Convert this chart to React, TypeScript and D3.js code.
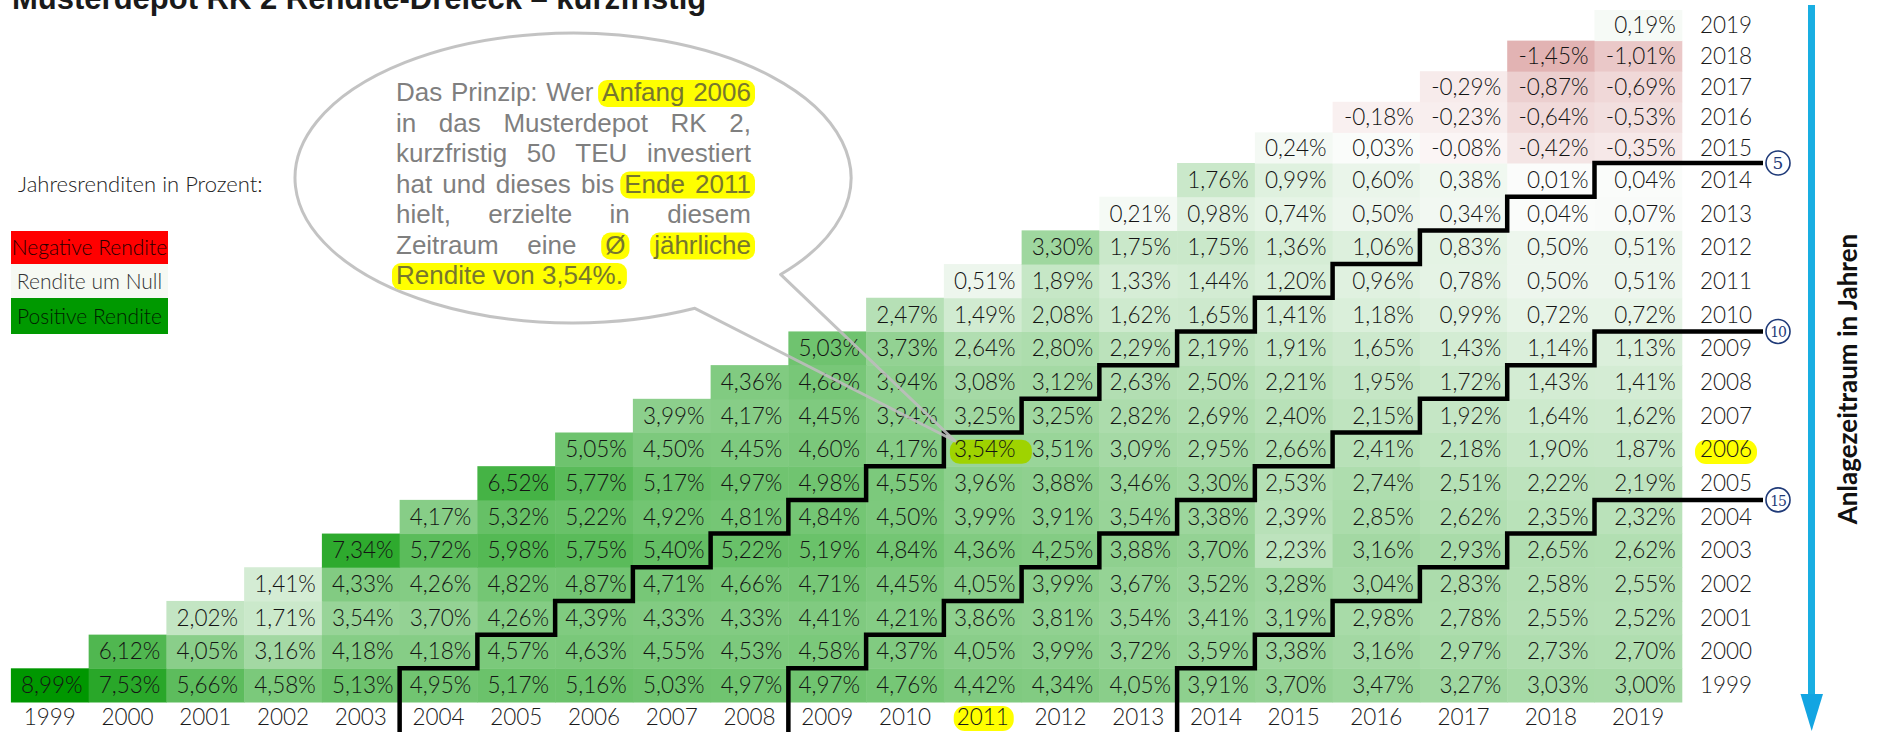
import React, { useEffect, useRef } from 'react'
import * as d3 from 'd3'

// Rendite-Dreieck: rows = Anlagebeginn (start year), columns = Anlageende (end year)
const years = d3.range(1999, 2020)

const r1999 = [8.99, 7.53, 5.66, 4.58, 5.13, 4.95, 5.17, 5.16, 5.03, 4.97, 4.97, 4.76, 4.42, 4.34, 4.05, 3.91, 3.70, 3.47, 3.27, 3.03, 3.00]
const r2000 = [6.12, 4.05, 3.16, 4.18, 4.18, 4.57, 4.63, 4.55, 4.53, 4.58, 4.37, 4.05, 3.99, 3.72, 3.59, 3.38, 3.16, 2.97, 2.73, 2.70]
const r2001 = [2.02, 1.71, 3.54, 3.70, 4.26, 4.39, 4.33, 4.33, 4.41, 4.21, 3.86, 3.81, 3.54, 3.41, 3.19, 2.98, 2.78, 2.55, 2.52]
const r2002 = [1.41, 4.33, 4.26, 4.82, 4.87, 4.71, 4.66, 4.71, 4.45, 4.05, 3.99, 3.67, 3.52, 3.28, 3.04, 2.83, 2.58, 2.55]
const r2003 = [7.34, 5.72, 5.98, 5.75, 5.40, 5.22, 5.19, 4.84, 4.36, 4.25, 3.88, 3.70, 2.23, 3.16, 2.93, 2.65, 2.62]
const r2004 = [4.17, 5.32, 5.22, 4.92, 4.81, 4.84, 4.50, 3.99, 3.91, 3.54, 3.38, 2.39, 2.85, 2.62, 2.35, 2.32]
const r2005 = [6.52, 5.77, 5.17, 4.97, 4.98, 4.55, 3.96, 3.88, 3.46, 3.30, 2.53, 2.74, 2.51, 2.22, 2.19]
const r2006 = [5.05, 4.50, 4.45, 4.60, 4.17, 3.54, 3.51, 3.09, 2.95, 2.66, 2.41, 2.18, 1.90, 1.87]
const r2007 = [3.99, 4.17, 4.45, 3.94, 3.25, 3.25, 2.82, 2.69, 2.40, 2.15, 1.92, 1.64, 1.62]
const r2008 = [4.36, 4.68, 3.94, 3.08, 3.12, 2.63, 2.50, 2.21, 1.95, 1.72, 1.43, 1.41]
const r2009 = [5.03, 3.73, 2.64, 2.80, 2.29, 2.19, 1.91, 1.65, 1.43, 1.14, 1.13]
const r2010 = [2.47, 1.49, 2.08, 1.62, 1.65, 1.41, 1.18, 0.99, 0.72, 0.72]
const r2011 = [0.51, 1.89, 1.33, 1.44, 1.20, 0.96, 0.78, 0.50, 0.51]
const r2012 = [3.30, 1.75, 1.75, 1.36, 1.06, 0.83, 0.50, 0.51]
const r2013 = [0.21, 0.98, 0.74, 0.50, 0.34, 0.04, 0.07]
const r2014 = [1.76, 0.99, 0.60, 0.38, 0.01, 0.04]
const r2015 = [0.24, 0.03, -0.08, -0.42, -0.35]
const r2016 = [-0.18, -0.23, -0.64, -0.53]
const r2017 = [-0.29, -0.87, -0.69]
const r2018 = [-1.45, -1.01]
const r2019 = [0.19]

const rowsByStart = [r1999, r2000, r2001, r2002, r2003, r2004, r2005, r2006, r2007, r2008,
  r2009, r2010, r2011, r2012, r2013, r2014, r2015, r2016, r2017, r2018, r2019]

const holdPeriods = [5, 10, 15]
const highlightStart = 2006
const highlightEnd = 2011

const legendItems = [
  { label: 'Negative Rendite', fill: '#FF0000', color: '#2a0000' },
  { label: 'Rendite um Null', fill: '#F6F9F3', color: '#333333' },
  { label: 'Positive Rendite', fill: '#009900', color: '#001f00' }
]

const bubbleLines: [string, boolean][][] = [
  [['Das Prinzip: Wer', false], ['Anfang 2006', true]],
  [['in das Musterdepot RK 2,', false]],
  [['kurzfristig 50 TEU investiert', false]],
  [['hat und dieses bis', false], ['Ende 2011', true]],
  [['hielt, erzielte in diesem', false]],
  [['Zeitraum eine', false], ['Ø', true], ['jährliche', true]],
  [['Rendite von 3,54%.', true]]
]

const fmt = (v: number) => v.toFixed(2).replace('.', ',') + '%'

function App () {
  const ref = useRef<SVGSVGElement>(null)

  useEffect(() => {
    function drawChart () {
      const svg = d3.select(ref.current)
      svg.selectAll('*').remove()

      // column left edges (last four columns are wider) and row edges
      const x = d3.scaleLinear().domain([1999, 2016, 2020]).range([10.9, 1332.6, 1681.8])
      const y = d3.scaleLinear().domain([2020, 2015, 1999]).range([10, 163, 702])
      const negColor = d3.scaleLinear<string>().domain([-1.45, 0]).range(['#E2B3B3', '#FCF9F9'])
      const posColor = d3.scaleLinear<string>().domain([0, 8.99]).range(['#FBFCFB', '#009700'])

      const cells = years.flatMap((s, i) => rowsByStart[i].map((v, j) => ({ start: s, end: s + j, v })))

      // title (cut at the top, as in the original)
      svg.append('text')
        .attr('x', 12).attr('y', 9)
        .attr('font-family', 'Liberation Sans, Arial, sans-serif')
        .attr('font-weight', 700).attr('font-size', 31).attr('fill', '#1a1a1a')
        .text('Musterdepot RK 2 Rendite-Dreieck – kurzfristig')

      // cells
      const g = svg.append('g')
      g.selectAll('rect.cell')
        .data(cells)
        .enter()
        .append('rect')
        .attr('class', 'cell')
        .attr('x', d => x(d.end))
        .attr('y', d => y(d.start + 1))
        .attr('width', d => x(d.end + 1) - x(d.end) + 0.5)
        .attr('height', d => y(d.start) - y(d.start + 1) + 0.5)
        .attr('fill', d => d.v < 0 ? negColor(d.v) : posColor(d.v))

      // 3,54% highlight
      const hy = (y(highlightStart) + y(highlightStart + 1)) / 2
      g.append('rect')
        .attr('x', x(highlightEnd) + 6).attr('y', hy - 9.5)
        .attr('width', 82).attr('height', 24).attr('rx', 10)
        .attr('fill', '#9FD300')

      g.selectAll('text.val')
        .data(cells)
        .enter()
        .append('text')
        .attr('class', 'val')
        .attr('x', d => x(d.end + 1) - 6)
        .attr('y', d => (y(d.start) + y(d.start + 1)) / 2 + 8)
        .attr('text-anchor', 'end')
        .attr('font-family', 'Lato, sans-serif').attr('font-weight', 300)
        .attr('font-size', 22.5).attr('fill', '#141414')
        .text(d => fmt(d.v))

      // column labels (end year)
      svg.append('rect')
        .attr('x', (x(highlightEnd) + x(highlightEnd + 1)) / 2 - 29).attr('y', 706)
        .attr('width', 60).attr('height', 25).attr('rx', 11).attr('fill', '#FFFF00')
      svg.append('g').selectAll('text')
        .data(years)
        .enter()
        .append('text')
        .attr('x', d => (x(d) + x(d + 1)) / 2)
        .attr('y', 725)
        .attr('text-anchor', 'middle')
        .attr('font-family', 'Lato, sans-serif').attr('font-weight', 300)
        .attr('font-size', 22.5).attr('fill', '#1a1a1a')
        .text(d => d)

      // row labels (start year)
      svg.append('rect')
        .attr('x', 1695).attr('y', 440)
        .attr('width', 62).attr('height', 24).attr('rx', 11).attr('fill', '#FFFF00')
      svg.append('g').selectAll('text')
        .data(years)
        .enter()
        .append('text')
        .attr('x', 1726)
        .attr('y', d => (y(d) + y(d + 1)) / 2 + 8)
        .attr('text-anchor', 'middle')
        .attr('font-family', 'Lato, sans-serif').attr('font-weight', 300)
        .attr('font-size', 22.5).attr('fill', '#1a1a1a')
        .text(d => d)

      // holding period staircases
      const line = d3.line()
      holdPeriods.forEach(k => {
        const top = 2019 - k
        const pts: [number, number][] = [[1763, y(top + 1)]]
        for (let r = top; r >= 1999; r--) {
          pts.push([x(r + k), y(r + 1)])
          pts.push([x(r + k), y(r)])
        }
        pts.push([x(1999 + k), 732])
        svg.append('path')
          .attr('d', line(pts))
          .attr('fill', 'none').attr('stroke', '#000').attr('stroke-width', 4.5)
          .attr('stroke-linejoin', 'miter')

        svg.append('circle')
          .attr('cx', 1778).attr('cy', y(top + 1)).attr('r', 12)
          .attr('fill', '#fff').attr('stroke', '#1F3A78').attr('stroke-width', 1.6)
        svg.append('text')
          .attr('x', 1778).attr('y', y(top + 1) + 6)
          .attr('text-anchor', 'middle')
          .attr('font-family', 'DejaVu Serif, serif')
          .attr('font-size', k < 10 ? 17 : 14)
          .attr('letter-spacing', k < 10 ? 0 : -1.2)
          .attr('fill', '#1F3A78')
          .text(k)
      })

      // legend
      svg.append('text')
        .attr('x', 18).attr('y', 192)
        .attr('font-family', 'Lato, sans-serif').attr('font-weight', 300)
        .attr('font-size', 22).attr('fill', '#222')
        .text('Jahresrenditen in Prozent:')
      const legY = [231, 264, 298, 334]
      legendItems.forEach((d, i) => {
        svg.append('rect')
          .attr('x', 11).attr('y', legY[i])
          .attr('width', 157).attr('height', legY[i + 1] - legY[i])
          .attr('fill', d.fill)
        svg.append('text')
          .attr('x', 89.5).attr('y', (legY[i] + legY[i + 1]) / 2 + 7.5)
          .attr('text-anchor', 'middle')
          .attr('font-family', 'Lato, sans-serif').attr('font-weight', 300)
          .attr('font-size', 21).attr('fill', d.color)
          .text(d.label)
      })

      // speech bubble
      const cx = 573
      const cy = 178
      const rx = 278
      const ry = 145
      const tA = 64 * Math.PI / 180
      const tB = 41.7 * Math.PI / 180
      const A: [number, number] = [cx + rx * Math.cos(tA), cy + ry * Math.sin(tA)]
      const B: [number, number] = [cx + rx * Math.cos(tB), cy + ry * Math.sin(tB)]
      const tip = [955, 441]
      svg.append('ellipse')
        .attr('cx', cx).attr('cy', cy).attr('rx', rx).attr('ry', ry)
        .attr('fill', '#fff')
      svg.append('path')
        .attr('d', `M${B[0]},${B[1]} A${rx},${ry} 0 1 0 ${A[0]},${A[1]} L${tip[0]},${tip[1]} Z`)
        .attr('fill', 'none').attr('stroke', '#BDBDBD').attr('stroke-width', 3)
        .attr('stroke-linejoin', 'round')
        .attr('stroke-opacity', 0.9)

      // bubble text, justified
      const hlLayer = svg.append('g')
      const txtLayer = svg.append('g')
        .attr('font-family', 'Liberation Sans, Arial, sans-serif')
        .attr('font-size', 26)
      const left = 396
      const right = 751
      bubbleLines.forEach((tokens, li) => {
        const base = 101 + li * 30.5
        const words = tokens.flatMap((t, gi) => t[0].split(' ').map(w => ({ w, hl: t[1], g: gi })))
        const nodes = words.map(d => txtLayer.append('text')
          .attr('y', base)
          .attr('fill', d.hl ? '#77772e' : '#7F7F7F')
          .text(d.w))
        const widths = nodes.map(n => (n.node() as SVGTextElement).getComputedTextLength())
        const total = d3.sum(widths)
        const last = li === bubbleLines.length - 1
        const gap = last ? 7.2 : (right - left - total) / (words.length - 1)
        let cur = left
        const xs: number[] = []
        nodes.forEach((n, i) => {
          n.attr('x', cur)
          xs.push(cur)
          cur += widths[i] + gap
        })
        tokens.forEach((t, gi) => {
          if (!t[1]) return
          const idx = words.map((d, i) => d.g === gi ? i : -1).filter(i => i >= 0)
          const x0 = xs[idx[0]]
          const x1 = xs[idx[idx.length - 1]] + widths[idx[idx.length - 1]]
          hlLayer.append('rect')
            .attr('x', x0 - 4).attr('y', base - 21)
            .attr('width', x1 - x0 + 8).attr('height', 27)
            .attr('rx', 9).attr('fill', '#FFFF00')
        })
      })

      // arrow on the right
      svg.append('rect')
        .attr('x', 1808).attr('y', 5).attr('width', 7).attr('height', 690)
        .attr('fill', '#19AEE2')
      svg.append('path')
        .attr('d', 'M1800.5,694 L1823,694 L1811.7,731 Z')
        .attr('fill', '#13A5E2')
      svg.append('text')
        .attr('transform', 'translate(1857,379) rotate(-90)')
        .attr('text-anchor', 'middle')
        .attr('font-family', 'Lato, sans-serif').attr('font-weight', 700)
        .attr('font-size', 26).attr('fill', '#111')
        .text('Anlagezeitraum in Jahren')
    }
    drawChart()
    if (document.fonts && document.fonts.ready) document.fonts.ready.then(drawChart)
  }, [])

  return (
    <svg ref={ref} width={1882} height={743}
      style={{ position: 'absolute', left: 0, top: 0, background: '#fff' }} />
  )
}

export default App
